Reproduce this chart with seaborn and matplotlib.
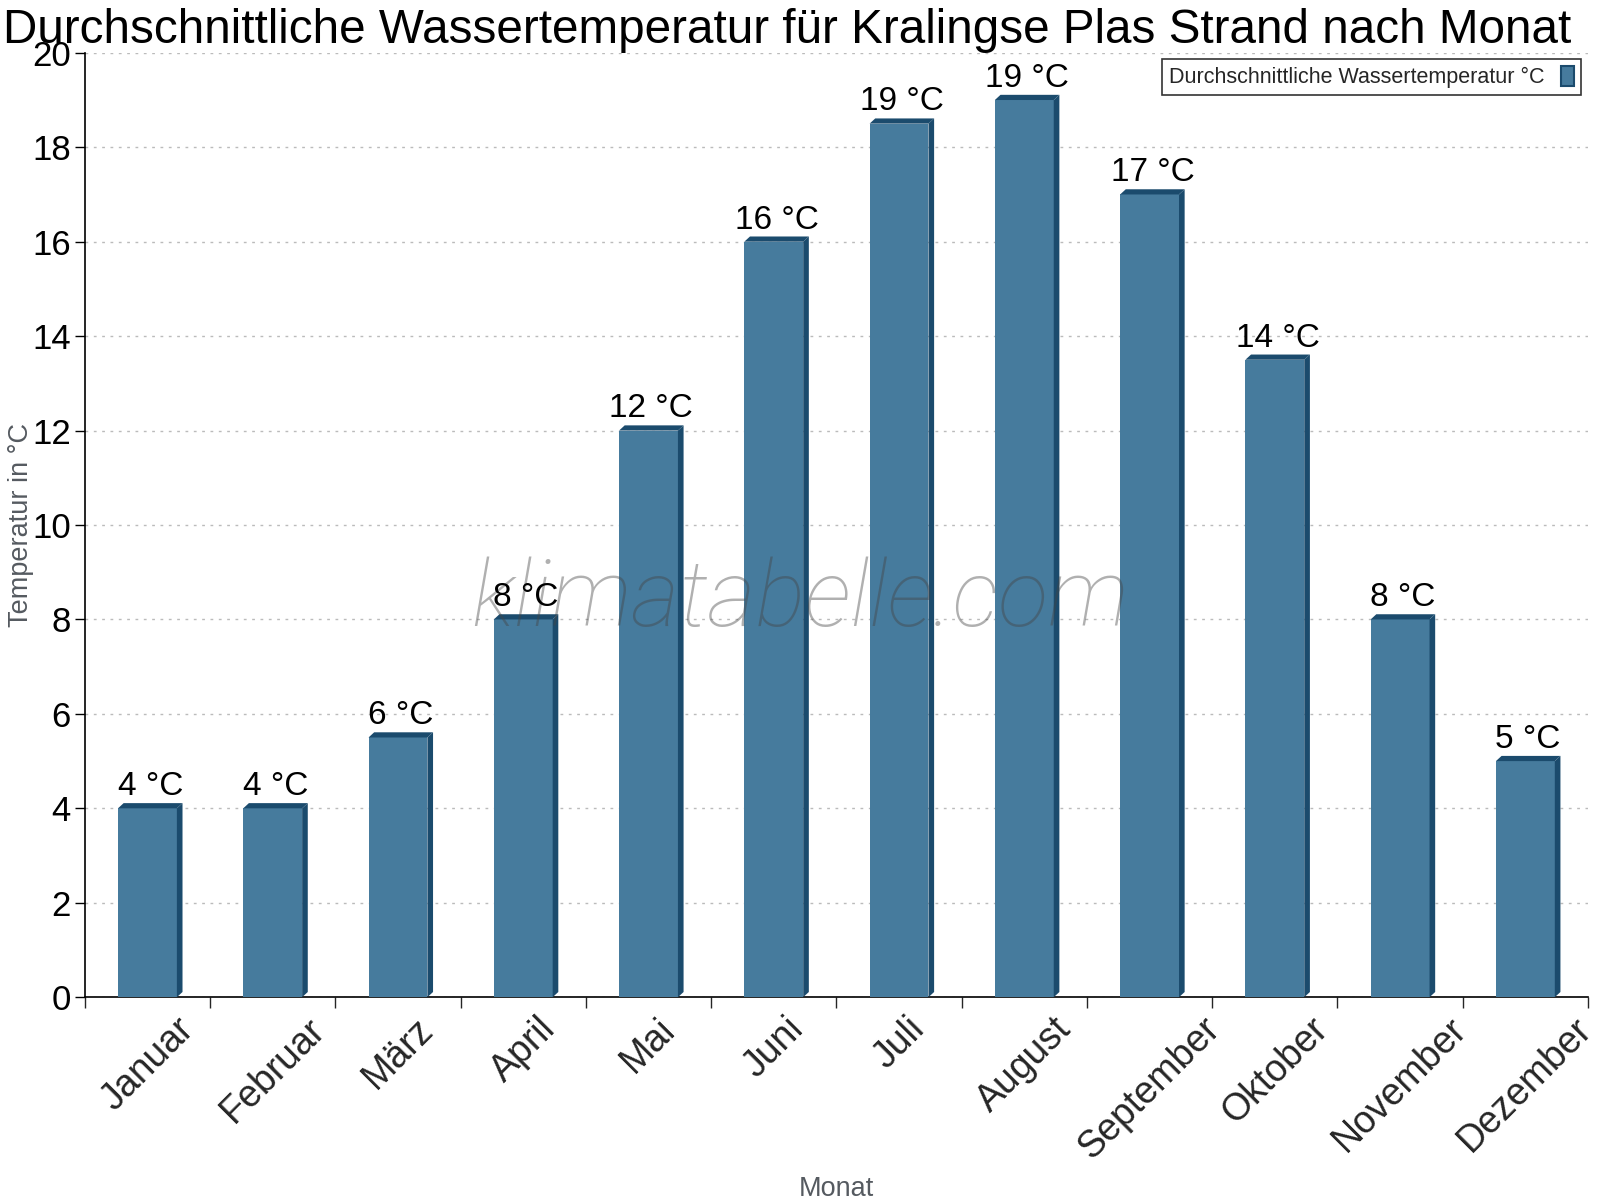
import numpy as np
import pandas as pd
import seaborn as sns
import matplotlib
matplotlib.use("Agg")
import matplotlib.pyplot as plt
from matplotlib.patches import Polygon, Patch

months = ["Januar", "Februar", "März", "April", "Mai", "Juni", "Juli",
          "August", "September", "Oktober", "November", "Dezember"]
water_temp = [4, 4, 5.5, 8, 12, 16, 18.5, 19, 17, 13.5, 8, 5]
bar_labels = ["4 °C", "4 °C", "6 °C", "8 °C", "12 °C", "16 °C", "19 °C",
              "19 °C", "17 °C", "14 °C", "8 °C", "5 °C"]
y_ticks = [0, 2, 4, 6, 8, 10, 12, 14, 16, 18, 20]

front_col = "#467b9d"
dark_col = "#1b4b6d"

sns.set_style("white")
plt.rcParams["font.family"] = ["Liberation Sans", "DejaVu Sans"]

df = pd.DataFrame({"Monat": months, "Temp": water_temp})

fig = plt.figure(figsize=(16, 12), dpi=100)
ax = fig.add_axes([0.053, 0.169, 0.9395, 0.787])

sns.barplot(data=df, x="Monat", y="Temp", order=months, color=front_col,
            width=0.47, saturation=1, ax=ax, zorder=3)

# fake 3d: top slab and right side
dx, dy = 0.045, 0.11
for p, lab in zip(ax.patches, bar_labels):
    x0 = p.get_x()
    x1 = x0 + p.get_width()
    h = p.get_height()
    p.set_edgecolor("none")
    top = Polygon([(x0, h), (x1, h), (x1 + dx, h + dy), (x0 + dx, h + dy)],
                  closed=True, facecolor=dark_col, edgecolor="none", zorder=3)
    side = Polygon([(x1, 0), (x1 + dx, dy), (x1 + dx, h + dy), (x1, h)],
                   closed=True, facecolor=dark_col, edgecolor="none", zorder=3)
    ax.add_patch(top)
    ax.add_patch(side)
    ax.text(x0 + p.get_width() / 2 + dx / 2, h + dy + 0.02, lab,
            ha="center", va="bottom", fontsize=24, color="black", zorder=8)

ax.set_xlim(-0.5, len(months) - 0.5)
ax.set_ylim(0, 20)
ax.set_yticks(y_ticks)
ax.tick_params(axis="y", labelsize=25, length=7, width=1, direction="out",
               left=True, colors="black", pad=3)
ax.set_xticks(range(len(months)))
ax.set_xticklabels(months, rotation=45, ha="center", fontsize=27)
ax.set_xticks(np.arange(-0.5, len(months), 1), minor=True)
ax.tick_params(axis="x", which="major", length=0, pad=10)
ax.tick_params(axis="x", which="minor", length=8, width=1, direction="out",
               bottom=True)

ax.grid(axis="y", linestyle=(0, (2, 4)), color="#bbbbbb", linewidth=1, zorder=0)
ax.grid(axis="x", visible=False)
for s in ["top", "right"]:
    ax.spines[s].set_visible(False)
for s in ["left", "bottom"]:
    ax.spines[s].set_color("black")
    ax.spines[s].set_linewidth(1.2)

ax.set_ylabel("Temperatur in °C", fontsize=19.5, color="#555a60")
ax.yaxis.set_label_coords(-0.034, 0.5)
ax.set_xlabel("Monat", fontsize=19.5, color="#555a60")
ax.xaxis.set_label_coords(0.5, -0.189)
ax.set_title("Durchschnittliche Wassertemperatur für Kralingse Plas Strand nach Monat",
             fontsize=34.3, color="black", x=0.467, pad=7)

ax.text(0.476, 0.42, "klimatabelle.com", transform=ax.transAxes, fontsize=67,
        style="italic", fontweight="light", family=["Roboto", "DejaVu Sans"],
        color="#444444", alpha=0.42, ha="center", va="center", zorder=6)

handle = Patch(facecolor=front_col, edgecolor=dark_col, linewidth=1.5)
leg = ax.legend([handle], ["Durchschnittliche Wassertemperatur °C"],
                loc="upper right", bbox_to_anchor=(0.9995, 1.0),
                markerfirst=False, fontsize=15.5, frameon=True, fancybox=False,
                handlelength=0.6, handleheight=1.1, borderpad=0.3,
                handletextpad=0.8, borderaxespad=0.3)
leg.get_frame().set_edgecolor("black")
leg.get_frame().set_linewidth(1.2)
leg.set_zorder(9)

fig.savefig("out.png", dpi=100, facecolor="white")
